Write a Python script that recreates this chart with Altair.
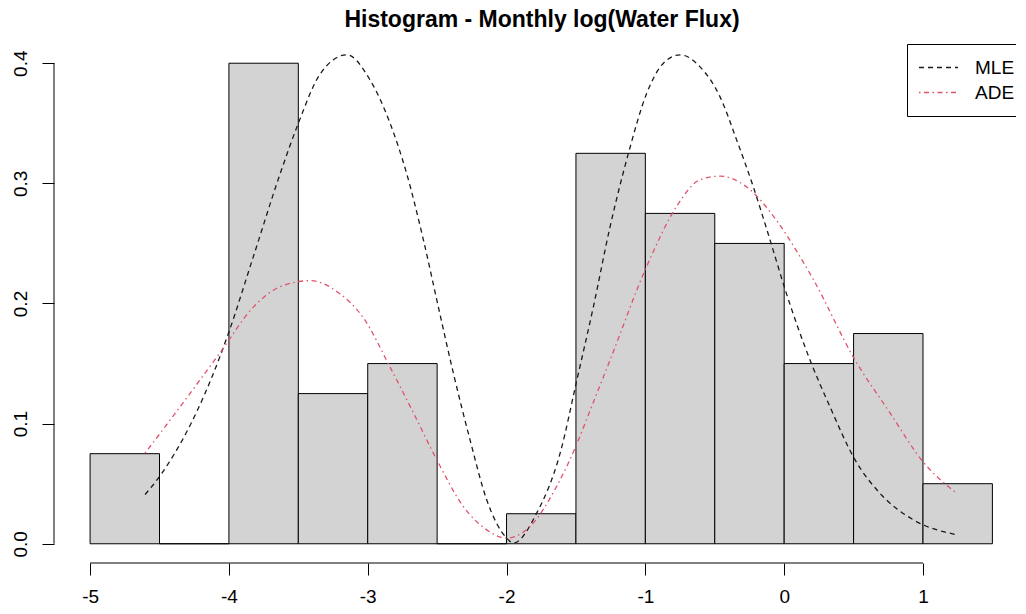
import altair as alt
import pandas as pd

# ---- data ----
bin_start = [-5.0, -4.5, -4.0, -3.5, -3.0, -2.5, -2.0, -1.5, -1.0, -0.5, 0.0, 0.5, 1.0]
bin_end = [-4.5, -4.0, -3.5, -3.0, -2.5, -2.0, -1.5, -1.0, -0.5, 0.0, 0.5, 1.0, 1.5]
density = [0.075, 0.0, 0.4, 0.125, 0.15, 0.0, 0.025, 0.325, 0.275, 0.25, 0.15, 0.175, 0.05]

mle_x = [-4.604, -4.50, -4.064, -4.004, -3.824, -3.631, -3.50, -3.343, -3.151, -2.983,
         -2.839, -2.719, -2.599, -2.491, -2.383, -2.263, -2.143, -1.999, -1.951, -1.783,
         -1.614, -1.494, -1.375, -1.254, -1.122, -0.990, -0.870, -0.750, -0.606, -0.462,
         -0.342, -0.222, -0.102, 0.006, 0.186, 0.330, 0.510, 0.690, 0.930, 1.243]
mle_y = [0.041, 0.056, 0.156, 0.175, 0.239, 0.308, 0.350, 0.391, 0.407, 0.386,
         0.350, 0.308, 0.253, 0.197, 0.142, 0.0865, 0.0366, 0.0047, 0.0006, 0.0255,
         0.0754, 0.136, 0.197, 0.264, 0.325, 0.375, 0.400, 0.407, 0.397, 0.372,
         0.336, 0.297, 0.253, 0.212, 0.153, 0.114, 0.070, 0.042, 0.020, 0.0075]

ade_x = [-4.604, -4.352, -4.064, -3.824, -3.631, -3.415, -3.199, -3.031, -2.839, -2.671,
         -2.503, -2.311, -2.143, -1.999, -1.831, -1.638, -1.494, -1.398, -1.254, -0.990,
         -0.774, -0.606, -0.462, -0.270, -0.054, 0.114, 0.210, 0.510, 0.762, 1.002, 1.243]
ade_y = [0.0754, 0.114, 0.159, 0.197, 0.214, 0.219, 0.208, 0.188, 0.147, 0.109,
         0.070, 0.031, 0.0116, 0.0047, 0.0144, 0.048, 0.083, 0.111, 0.153, 0.231,
         0.281, 0.303, 0.306, 0.297, 0.269, 0.239, 0.220, 0.153, 0.109, 0.068, 0.042]

series_names = ["MLE", "ADE"]
series_colors = ["#1a1a1a", "#DF536B"]
series_dash = [[5, 4], [1.5, 3.5, 5, 3.5]]

x_ticks = [-5, -4, -3, -2, -1, 0, 1]
y_ticks = [0.0, 0.1, 0.2, 0.3, 0.4]

title_text = "Histogram - Monthly log(Water Flux)"

# ---- tables ----
bars = pd.DataFrame({"start": bin_start, "end": bin_end, "density": density})
curves = pd.concat([
    pd.DataFrame({"x": mle_x, "y": mle_y, "series": "MLE", "order": range(len(mle_x))}),
    pd.DataFrame({"x": ade_x, "y": ade_y, "series": "ADE", "order": range(len(ade_x))}),
])
xaxis_df = pd.DataFrame({"x0": [min(x_ticks)], "x1": [max(x_ticks)]})
yaxis_df = pd.DataFrame({"y0": [min(y_ticks)], "y1": [max(y_ticks)]})

W, H = 962, 519
FONT = "Liberation Sans"

xscale = alt.Scale(domain=[-5.26, 1.67], nice=False, zero=False)
yscale = alt.Scale(domain=[-0.016, 0.416], nice=False, zero=False)

xaxis = alt.Axis(values=x_ticks, title=None, grid=False, domain=False,
                 tickSize=12, tickColor="black", labelColor="black",
                 labelFont=FONT, labelFontSize=19, labelPadding=12,
                 labelFlush=False, labelOverlap=False,
                 labelExpr="'' + datum.value")
yaxis = alt.Axis(values=y_ticks, title=None, grid=False, domain=False,
                 tickSize=12, tickColor="black", labelColor="black",
                 labelFont=FONT, labelFontSize=19, labelPadding=16,
                 labelAngle=270, labelAlign="center", labelBaseline="alphabetic",
                 labelFlush=False, labelOverlap=False, format=".1f")

legend = alt.Legend(title=None, orient="none", legendX=853, legendY=0,
                    padding=11, strokeColor="black", fillColor="white",
                    symbolType="stroke", symbolSize=1521, symbolStrokeWidth=1.3,
                    clipHeight=25, rowPadding=0, labelFont=FONT,
                    labelFontSize=19, labelColor="black", labelOffset=16,
                    cornerRadius=0)

hist = alt.Chart(bars).transform_calculate(zero="0").mark_rect(
    fill="#D3D3D3", stroke="black", strokeWidth=1
).encode(
    x=alt.X("start:Q", scale=xscale, axis=xaxis),
    x2="end:Q",
    y=alt.Y("zero:Q", scale=yscale, axis=yaxis),
    y2="density:Q",
)

lines = alt.Chart(curves).mark_line(strokeWidth=1.3, interpolate="monotone").encode(
    x=alt.X("x:Q", scale=xscale),
    y=alt.Y("y:Q", scale=yscale),
    color=alt.Color("series:N", scale=alt.Scale(domain=series_names, range=series_colors), legend=legend),
    strokeDash=alt.StrokeDash("series:N", scale=alt.Scale(domain=series_names, range=series_dash), legend=legend),
    order="order:Q",
)

xline = alt.Chart(xaxis_df).mark_rule(color="black", strokeWidth=1).encode(
    x=alt.X("x0:Q", scale=xscale), x2="x1:Q", y=alt.value(H)
)
yline = alt.Chart(yaxis_df).mark_rule(color="black", strokeWidth=1).encode(
    y=alt.Y("y0:Q", scale=yscale), y2="y1:Q", x=alt.value(0)
)

chart = alt.layer(hist, lines, xline, yline).properties(
    width=W, height=H,
    background="white",
    title=alt.TitleParams(title_text, font=FONT, fontSize=23, fontWeight="bold",
                          anchor="middle", color="black", offset=12, dx=7),
    autosize=alt.AutoSizeParams(type="none"),
    padding={"left": 46, "top": 36, "right": 0, "bottom": 43},
).configure_view(strokeWidth=0)

chart.save("out.html", embed_options={"renderer": "svg", "actions": False})
